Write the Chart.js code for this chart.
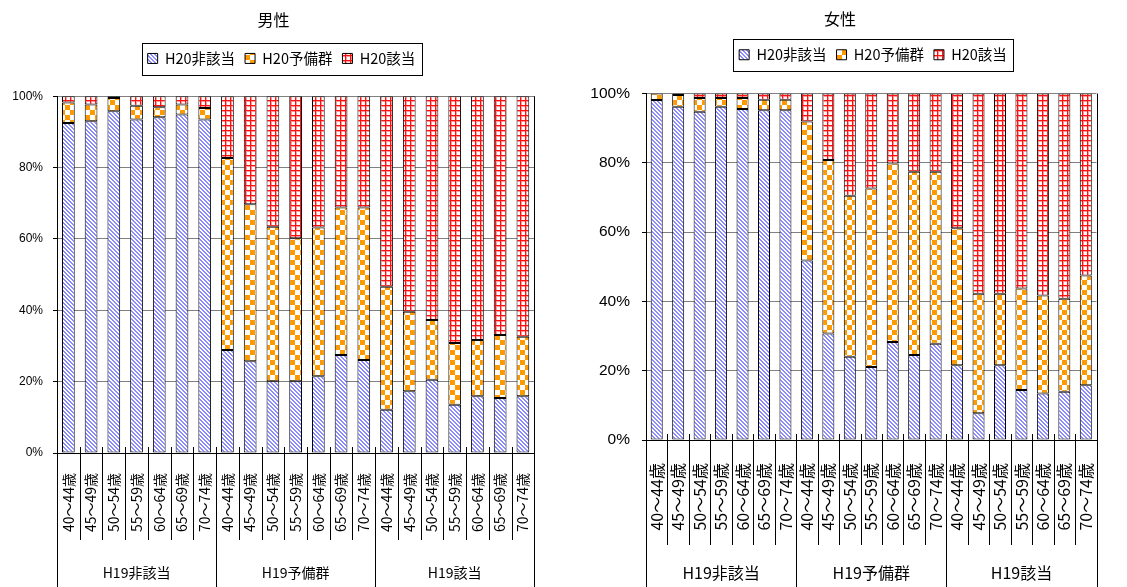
<!DOCTYPE html>
<html>
<head>
<meta charset="utf-8">
<script src="https://cdn.jsdelivr.net/npm/chart.js@4.4.0/dist/chart.umd.min.js"></script>
<style>
  html, body { margin: 0; padding: 0; background: #fff; overflow: hidden; width: 1127px; height: 587px; }
  canvas { position: absolute; top: 0; }
</style>
</head>
<body>
<canvas id="male" width="560" height="587" style="left:0"></canvas>
<canvas id="female" width="576" height="587" style="left:552px"></canvas>
<script>
// ---- data ----
const ageLabels = ['40～44歳','45～49歳','50～54歳','55～59歳','60～64歳','65～69歳','70～74歳'];
const groupLabels = ['H19非該当','H19予備群','H19該当'];
const seriesNames = ['H20非該当','H20予備群','H20該当'];
const yTicks = [0, 20, 40, 60, 80, 100];

// 男性 (percent of each bar)
const maleNon = [92.5, 93.0, 95.8, 93.5, 94.1, 94.9, 93.5,
                 28.9, 25.7, 20.1, 20.1, 21.5, 27.5, 26.1,
                 12.1, 17.3, 20.5, 13.5, 15.9, 15.4, 15.9];
const maleRes = [5.7, 4.7, 3.7, 3.8, 2.8, 2.8, 3.2,
                 53.8, 44.0, 43.3, 40.1, 41.7, 41.3, 42.7,
                 34.5, 22.3, 16.8, 17.3, 15.8, 17.7, 16.7];
const maleMet = [1.8, 2.3, 0.5, 2.7, 3.1, 2.3, 3.3,
                 17.3, 30.3, 36.6, 39.8, 36.8, 31.2, 31.2,
                 53.4, 60.4, 62.7, 69.2, 68.3, 66.9, 67.4];

// 女性
const femaleNon = [98.1, 96.2, 94.7, 96.2, 95.5, 95.2, 95.2,
                   51.8, 30.7, 24.0, 21.1, 28.3, 24.5, 27.8,
                   21.6, 7.7, 21.6, 14.4, 13.4, 13.9, 15.8];
const femaleRes = [1.9, 3.4, 4.0, 2.5, 3.2, 3.0, 3.0,
                   40.1, 50.1, 46.5, 51.5, 51.5, 52.9, 49.6,
                   39.5, 34.5, 20.6, 29.3, 28.3, 26.9, 31.7];
const femaleMet = [0.0, 0.4, 1.3, 1.3, 1.3, 1.8, 1.8,
                   8.1, 19.2, 29.5, 27.4, 20.2, 22.6, 22.6,
                   38.9, 57.8, 57.8, 56.3, 58.3, 59.2, 52.5];

const categories = [];
groupLabels.forEach(() => ageLabels.forEach(a => categories.push(a)));

// ---- patterns ----
function makePattern(size, drawFn) {
  const c = document.createElement('canvas');
  c.width = size; c.height = size;
  const g = c.getContext('2d');
  g.fillStyle = '#ffffff'; g.fillRect(0, 0, size, size);
  drawFn(g, size);
  return g.createPattern(c, 'repeat');
}
const stripePattern = makePattern(4, (g) => {
  g.fillStyle = '#8c8cff';
  for (let y = 0; y < 4; y++) {
    g.fillRect(y, y, 1, 1);
    g.fillRect((y + 1) % 4, y, 1, 1);
  }
});
const checkerPattern = makePattern(10, (g) => {
  g.fillStyle = '#ff9900';
  g.fillRect(0, 0, 5, 5);
  g.fillRect(5, 5, 5, 5);
});
const gridPattern = makePattern(5, (g) => {
  g.fillStyle = '#ff9a9a';
  g.fillRect(0, 1, 5, 1); g.fillRect(1, 0, 1, 5);
  g.fillStyle = '#ff1010';
  g.fillRect(0, 0, 5, 1); g.fillRect(0, 0, 1, 5);
});
const fills = [stripePattern, checkerPattern, gridPattern];

const latinCJK = "'Noto Sans CJK JP',sans-serif";
const cjk = "'Noto Sans CJK JP',sans-serif";

// ---- plugins ----
const legendTweak = {
  id: 'legendTweak',
  beforeLayout(chart) {
    const lg = chart.legend;
    if (lg && !lg._tweaked) {
      const f = lg.fit;
      lg.fit = function () { f.call(this); this.height += chart.options.plugins.legendTweak.extra; };
      lg._tweaked = true;
    }
  },
  afterLayout(chart) {
    const lg = chart.legend;
    const dx = chart.options.plugins.legendTweak.shift;
    lg.left += dx; lg.right += dx;
  },
  afterDraw(chart) {
    const hb = chart.legend.legendHitBoxes;
    if (!hb || !hb.length) return;
    let l = Infinity, r = -Infinity, t = Infinity, b = -Infinity;
    hb.forEach(h => { l = Math.min(l, h.left); r = Math.max(r, h.left + h.width); t = Math.min(t, h.top); b = Math.max(b, h.top + h.height); });
    const ctx = chart.ctx;
    ctx.save();
    ctx.strokeStyle = '#000'; ctx.lineWidth = 1;
    ctx.strokeRect(Math.round(l - 6) + 0.5, Math.round(t - 8.5) + 0.5, Math.round(r - l + 12), Math.round(b - t + 17));
    ctx.restore();
  }
};

const groupAxis = {
  id: 'groupAxis',
  afterDraw(chart) {
    const o = chart.options.plugins.groupAxis;
    const xs = chart.scales.x, area = chart.chartArea, ctx = chart.ctx;
    const n = categories.length, per = ageLabels.length, H = chart.height;
    ctx.save();
    ctx.strokeStyle = '#000'; ctx.lineWidth = 1;
    for (let i = 0; i <= n; i++) {
      const px = Math.round(xs.getPixelForValue(i - 0.5)) + 0.5;
      const isGroup = i % per === 0;
      let y0 = area.bottom - 6, y1 = area.bottom + o.sepDepth;
      if (isGroup) y1 = H;
      if (i === n) y0 = area.top;
      ctx.beginPath(); ctx.moveTo(px, y0); ctx.lineTo(px, y1); ctx.stroke();
    }
    ctx.fillStyle = '#000';
    ctx.font = o.fontSize + 'px ' + latinCJK;
    ctx.textAlign = 'center'; ctx.textBaseline = 'middle';
    groupLabels.forEach((g, k) => {
      const a = xs.getPixelForValue(k * per - 0.5), b = xs.getPixelForValue((k + 1) * per - 0.5);
      ctx.fillText(g, (a + b) / 2, o.labelY);
    });
    ctx.restore();
  }
};

function makeChart(id, title, non, res, met, L) {
  const data = {
    labels: categories,
    datasets: [non, res, met].map((arr, i) => ({
      label: seriesNames[i],
      data: arr,
      backgroundColor: fills[i],
      borderColor: '#000',
      borderWidth: 1,
      borderSkipped: false,
      barPercentage: 0.56,
      categoryPercentage: 1.0
    }))
  };
  return new Chart(document.getElementById(id), {
    type: 'bar',
    data,
    plugins: [legendTweak, groupAxis],
    options: {
      responsive: false,
      animation: false,
      layout: { padding: { left: 0, right: L.padRight, top: 0, bottom: 0 } },
      plugins: {
        tooltip: { enabled: false },
        title: {
          display: true, text: title, color: '#000',
          font: { family: cjk, size: 16, weight: 'normal', lineHeight: 1.2 },
          padding: { top: L.titleTop, bottom: L.titleBottom }
        },
        legend: {
          display: true,
          labels: {
            color: '#000', boxWidth: 10, boxHeight: 10, padding: 10,
            font: { family: latinCJK, size: 14.5 }
          }
        },
        legendTweak: { extra: L.legendExtra, shift: L.legendShift },
        groupAxis: { sepDepth: L.sepDepth, labelY: 573, fontSize: L.groupFont }
      },
      scales: {
        x: {
          stacked: true,
          grid: { display: false, drawTicks: false },
          border: { display: true, color: '#000', width: 1 },
          ticks: {
            autoSkip: false, minRotation: 90, maxRotation: 90,
            padding: L.xPad, color: '#000',
            font: { family: latinCJK, size: L.xFont }
          },
          afterFit: (s) => { s.height = L.xHeight; }
        },
        y: {
          stacked: true, min: 0, max: 100,
          afterBuildTicks: (s) => { s.ticks = yTicks.map(v => ({ value: v })); },
          grid: { color: '#808080', lineWidth: 1, tickLength: 4, tickColor: '#000' },
          border: { display: true, color: '#000', width: 1 },
          ticks: {
            padding: L.yPad, color: '#000',
            font: { family: "'Liberation Sans',sans-serif", size: L.yFont },
            callback: (v) => v + '%'
          },
          afterFit: (s) => { s.width = L.yWidth; }
        }
      }
    }
  });
}

makeChart('male', '男性', maleNon, maleRes, maleMet, {
  padRight: 13, titleTop: 10, titleBottom: 12, legendExtra: 20.5, legendShift: 8,
  sepDepth: 87, groupFont: 14, xPad: 20, xFont: 14, xHeight: 134, yPad: 10, yFont: 12, yWidth: 57
});
makeChart('female', '女性', femaleNon, femaleRes, femaleMet, {
  padRight: 0, titleTop: 9, titleBottom: 9.3, legendExtra: 21.5, legendShift: 33,
  sepDepth: 105, groupFont: 16, xPad: 23, xFont: 16, xHeight: 147, yPad: 12, yFont: 15.5, yWidth: 94
});
</script>
</body>
</html>
